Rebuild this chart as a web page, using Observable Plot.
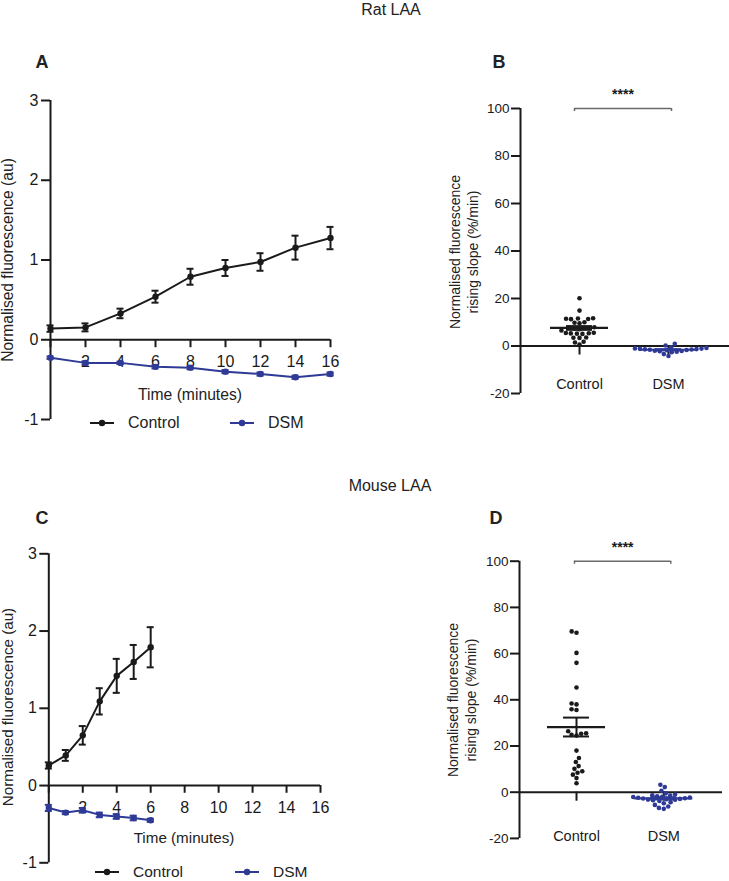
<!DOCTYPE html>
<html><head><meta charset="utf-8">
<script src="https://cdn.jsdelivr.net/npm/d3@7"></script>
<script src="https://cdn.jsdelivr.net/npm/@observablehq/plot@0.6"></script>
<style>
body{margin:0;background:#fff;font-family:"Liberation Sans",Arial,sans-serif;color:#222;}
#root{position:relative;width:729px;height:881px;overflow:hidden;background:#fff;}
#root svg{position:absolute;}
.t{position:absolute;font-size:14px;white-space:nowrap;transform:translate(-50%,-50%);line-height:18px;text-align:center;}
.rot{transform:translate(-50%,-50%) rotate(-90deg);}
.lt{position:absolute;font-size:18px;font-weight:bold;transform:translate(-50%,-50%);}
.leg{position:absolute;font-size:16px;display:flex;align-items:center;transform:translateY(-50%);}
.leg svg{position:static !important;margin-right:14px;}
</style></head>
<body><div id="root"></div>
<script>
// ---------- data ----------
const seriesNames = ["Control", "DSM"];
const timeRat = [0, 2, 4, 6, 8, 10, 12, 14, 16];
const ratControlMean = [0.14, 0.155, 0.33, 0.54, 0.79, 0.90, 0.975, 1.155, 1.275];
const ratControlSem  = [0.04, 0.05, 0.06, 0.075, 0.10, 0.10, 0.11, 0.15, 0.14];
const ratDsmMean = [-0.225, -0.29, -0.29, -0.34, -0.35, -0.40, -0.43, -0.47, -0.43];
const ratDsmSem  = [0.015, 0.02, 0.015, 0.02, 0.02, 0.02, 0.02, 0.02, 0.02];
const timeMouse = [0, 1, 2, 3, 4, 5, 6];
const mouseControlMean = [0.26, 0.39, 0.65, 1.09, 1.42, 1.60, 1.79];
const mouseControlSem  = [0.04, 0.07, 0.12, 0.17, 0.22, 0.22, 0.26];
const mouseDsmMean = [-0.29, -0.35, -0.32, -0.38, -0.40, -0.42, -0.45];
const mouseDsmSem  = [0.04, 0.02, 0.03, 0.03, 0.03, 0.03, 0.02];
const timeAxisTicks = [0, 2, 4, 6, 8, 10, 12, 14, 16];
const timeTickLabels = [2, 4, 6, 8, 10, 12, 14, 16];
const foldTicks = [-1, 0, 1, 2, 3];
const slopeTicks = [-20, 0, 20, 40, 60, 80, 100];
const ratSlopeControl = [20.1, 14.9, 11.6, 11.4, 11.5, 11.3, 11.7, 10.0, 9.8, 9.6, 7.8, 7.5, 7.9, 7.6, 7.4, 7.1, 6.5, 5.4, 5.2, 5.5, 5.3, 5.1, 5.6, 3.6, 3.4, 3.5, 1.8, 1.5, 0.6];
const ratSlopeDsm = [0.9, 0.2, -0.5, -0.8, -1.0, -1.1, -1.2, -1.3, -1.4, -1.5, -1.6, -1.7, -1.8, -2.0, -2.1, -2.2, -2.4, -2.6, -3.4, -4.2];
const mouseSlopeControl = [69.6, 69.0, 60.3, 56.0, 45.3, 38.0, 38.4, 35.9, 35.6, 25.5, 24.8, 26.4, 24.5, 25.3, 18.0, 14.8, 13.1, 11.3, 10.1, 9.1, 8.4, 7.6, 6.1, 3.9];
const mouseSlopeDsm = [3.2, 2.2, 0.6, -0.5, -1.0, -1.3, -1.5, -1.8, -2.0, -2.1, -2.3, -2.4, -2.6, -2.7, -2.9, -3.0, -3.2, -3.3, -3.5, -3.8, -4.3, -4.8, -5.5, -6.2, -6.8, -7.2];

// ---------- styles ----------
const BLACK = "#1a1a1a", BLUE = "#2e3a96", GREY = "#6a6a6a";
const FONT = "'Liberation Sans', Arial, sans-serif";
const root = document.getElementById("root");

function place(el, left, top) { el.style.left = left + "px"; el.style.top = top + "px"; root.appendChild(el); }
function html(cls, text, x, y, size) { const d = document.createElement("div"); d.className = cls; d.innerHTML = text; if (size) d.style.fontSize = size + "px"; place(d, x, y); return d; }

function timePanel(cfg) {
  const {svgLeft, svgTop, svgW, svgH, xL, xR, yT, yB, time, cMean, cSem, dMean, dSem, fs} = cfg;
  const mk = (name, m, s) => time.map((t, i) => ({t, series: name, mean: m[i], lo: m[i] - s[i], hi: m[i] + s[i]}));
  const c = mk(seriesNames[0], cMean, cSem), d = mk(seriesNames[1], dMean, dSem);
  const seriesMarks = (data, col) => [
    Plot.ruleX(data, {x: "t", y1: "lo", y2: "hi", stroke: col, strokeWidth: 2}),
    Plot.ruleY(data, {y: "lo", x1: "t", x2: "t", insetLeft: -3.5, insetRight: -3.5, stroke: col, strokeWidth: 2}),
    Plot.ruleY(data, {y: "hi", x1: "t", x2: "t", insetLeft: -3.5, insetRight: -3.5, stroke: col, strokeWidth: 2}),
    Plot.line(data, {x: "t", y: "mean", stroke: col, strokeWidth: 2}),
    Plot.dot(data, {x: "t", y: "mean", fill: col, r: 3.2})
  ];
  const p = Plot.plot({
    width: svgW, height: svgH,
    marginLeft: xL - svgLeft, marginRight: svgLeft + svgW - xR,
    marginTop: yT - svgTop, marginBottom: svgTop + svgH - yB,
    x: {domain: [0, 16], axis: null},
    y: {domain: [-1, 3], axis: null},
    style: {background: "none", fontFamily: FONT, fontSize: fs + "px", overflow: "visible", color: BLACK},
    marks: [
      Plot.axisY({ticks: foldTicks, tickSize: 9, tickPadding: 3, strokeWidth: 2, fontSize: fs, tickFormat: v => String(v), label: null, stroke: BLACK, fill: BLACK}),
      Plot.text(timeTickLabels, {x: v => v, y: 0, dy: 22, text: v => String(v), fontSize: fs, fill: BLACK}),
      Plot.ruleX([0], {y1: -1, y2: 3, strokeWidth: 2, stroke: BLACK}),
      Plot.ruleY([0], {x1: 0, x2: 16, strokeWidth: 2, stroke: BLACK}),
      Plot.ruleX(timeAxisTicks, {x: v => v, y1: 0, y2: -0.1, strokeWidth: 2, stroke: BLACK}),
      ...seriesMarks(d, BLUE),
      ...seriesMarks(c, BLACK)
    ]
  });
  place(p, svgLeft, svgTop);
}

function swarm(values, center, pxX, pxY, D) {
  const sorted = values.slice().sort((a, b) => a - b);
  const placed = [];
  for (const v of sorted) {
    const py = v * pxY;
    const blocked = [];
    for (const q of placed) {
      const dy = Math.abs(q.py - py);
      if (dy < D) { const w = Math.sqrt(D * D - dy * dy); blocked.push([q.ox - w, q.ox + w]); }
    }
    const cands = [0];
    blocked.forEach(([a, b]) => cands.push(a, b));
    cands.sort((a, b) => Math.abs(a) - Math.abs(b));
    const ox = cands.find(cx => blocked.every(([a, b]) => cx <= a + 1e-6 || cx >= b - 1e-6));
    placed.push({v, py, ox});
  }
  return placed.map(q => ({value: q.v, x: center + q.ox / pxX}));
}

function slopePanel(cfg) {
  const {svgLeft, svgTop, svgW, svgH, axisX, ctrlX, dsmX, rightX, y100, yM20, ctrl, dsm, brL, brR} = cfg;
  const unit = dsmX - ctrlX;
  const xmin = 1 - (ctrlX - axisX) / unit, xmax = 2 + (rightX - dsmX) / unit;
  const pxY = (yM20 - y100) / 120;
  const pts = [
    ...swarm(ctrl, 1, unit, pxY, 5.0).map(p => ({...p, g: seriesNames[0]})),
    ...swarm(dsm, 2, unit, pxY, 5.0).map(p => ({...p, g: seriesNames[1]}))
  ];
  const stats = [[ctrl, 1, seriesNames[0]], [dsm, 2, seriesNames[1]]].map(([v, x, g]) => {
    const m = d3.mean(v), se = d3.deviation(v) / Math.sqrt(v.length);
    return {x, g, mean: m, lo: m - se, hi: m + se};
  });
  const col = g => g === seriesNames[0] ? BLACK : BLUE;
  const p = Plot.plot({
    width: svgW, height: svgH,
    marginLeft: axisX - svgLeft, marginRight: svgLeft + svgW - rightX,
    marginTop: y100 - svgTop, marginBottom: svgTop + svgH - yM20,
    x: {domain: [xmin, xmax], axis: null},
    y: {domain: [-20, 100], axis: null},
    style: {background: "none", fontFamily: FONT, fontSize: "14px", overflow: "visible", color: BLACK},
    marks: [
      Plot.axisY({ticks: slopeTicks, tickSize: 9, tickPadding: 2, strokeWidth: 2, fontSize: 13.5, tickFormat: v => String(v), label: null, stroke: BLACK, fill: BLACK}),
      Plot.ruleX([xmin], {y1: -20, y2: 100, strokeWidth: 2, stroke: BLACK}),
      Plot.ruleY([0], {strokeWidth: 2, stroke: BLACK}),
      Plot.ruleX([1, 2], {y1: 0, y2: -9 / pxY, strokeWidth: 2, stroke: BLACK}),
      Plot.text(stats, {x: "x", y: 0, dy: cfg.catDy, text: "g", fontSize: 14.5, fill: BLACK}),
      Plot.ruleY([100], {x1: 1, x2: 2, insetLeft: -brL, insetRight: -brR, stroke: GREY, strokeWidth: 1.5}),
      Plot.ruleX([1], {y1: 100, y2: 100 - 3 / pxY, dx: -brL, stroke: GREY, strokeWidth: 1.5}),
      Plot.ruleX([2], {y1: 100, y2: 100 - 3 / pxY, dx: brR, stroke: GREY, strokeWidth: 1.5}),
      Plot.text(["****"], {x: 1.5, y: 100, dy: -14, dx: (brR - brL) / 2, text: d => d, fontSize: 14, fontWeight: "bold", fill: BLACK}),
      Plot.dot(pts, {x: "x", y: "value", r: 2.3, fill: d => col(d.g), stroke: "none"}),
      Plot.ruleX(stats, {x: "x", y1: "lo", y2: "hi", stroke: d => col(d.g), strokeWidth: 2}),
      Plot.ruleY(stats, {y: "lo", x1: "x", x2: "x", insetLeft: -13, insetRight: -13, stroke: d => col(d.g), strokeWidth: 2}),
      Plot.ruleY(stats, {y: "hi", x1: "x", x2: "x", insetLeft: -13, insetRight: -13, stroke: d => col(d.g), strokeWidth: 2}),
      Plot.ruleY(stats, {y: "mean", x1: "x", x2: "x", insetLeft: -29, insetRight: -29, stroke: d => col(d.g), strokeWidth: 2.2})
    ]
  });
  place(p, svgLeft, svgTop);
}

function legend(y, x1, x2, fs) {
  [[x1, BLACK, seriesNames[0]], [x2, BLUE, seriesNames[1]]].forEach(([x, c, name]) => {
    const d = document.createElement("div");
    d.className = "leg";
    d.style.fontSize = fs + "px";
    d.innerHTML = `<svg width="24" height="8"><line x1="0" y1="4" x2="24" y2="4" stroke="${c}" stroke-width="2"/><circle cx="12" cy="4" r="3.2" fill="${c}"/></svg><span>${name}</span>`;
    place(d, x, y);
  });
}

// ---------- panels ----------
timePanel({svgLeft: 0, svgTop: 85, svgW: 365, svgH: 350, xL: 50, xR: 330, yT: 100, yB: 419, fs: 16,
  time: timeRat, cMean: ratControlMean, cSem: ratControlSem, dMean: ratDsmMean, dSem: ratDsmSem});
timePanel({svgLeft: 0, svgTop: 535, svgW: 365, svgH: 340, xL: 48.3, xR: 320, yT: 553.3, yB: 862.3, fs: 16,
  time: timeMouse, cMean: mouseControlMean, cSem: mouseControlSem, dMean: mouseDsmMean, dSem: mouseDsmSem});
slopePanel({svgLeft: 365, svgTop: 80, svgW: 364, svgH: 340, axisX: 520, ctrlX: 579, dsmX: 668, rightX: 729,
  y100: 108, yM20: 393, ctrl: ratSlopeControl, dsm: ratSlopeDsm, brL: 5, brR: 3, catDy: 38.5});
slopePanel({svgLeft: 365, svgTop: 530, svgW: 364, svgH: 330, axisX: 519, ctrlX: 576, dsmX: 663.3, rightX: 722,
  y100: 560.7, yM20: 837.9, ctrl: mouseSlopeControl, dsm: mouseSlopeDsm, brL: 2, brR: 7, catDy: 44});

// ---------- text ----------
html("t", "Rat LAA", 391, 10, 16);
html("t", "Mouse LAA", 390, 486, 16);
html("lt", "A", 42, 62);
html("lt", "B", 499, 62);
html("lt", "C", 42, 518);
html("lt", "D", 496, 518);
html("t rot", "Normalised fluorescence (au)", 8, 260, 15.6);
html("t rot", "Normalised fluorescence (au)", 8, 707, 15.2);
html("t rot", "Normalised fluorescence<br>rising slope (%/min)", 464, 252, 14);
html("t rot", "Normalised fluorescence<br>rising slope (%/min)", 462, 700, 14);
html("t", "Time (minutes)", 190, 395, 15.7);
html("t", "Time (minutes)", 184, 838, 15.2);
legend(423, 90, 230, 16);
legend(872, 95, 235, 15.5);
</script></body></html>
